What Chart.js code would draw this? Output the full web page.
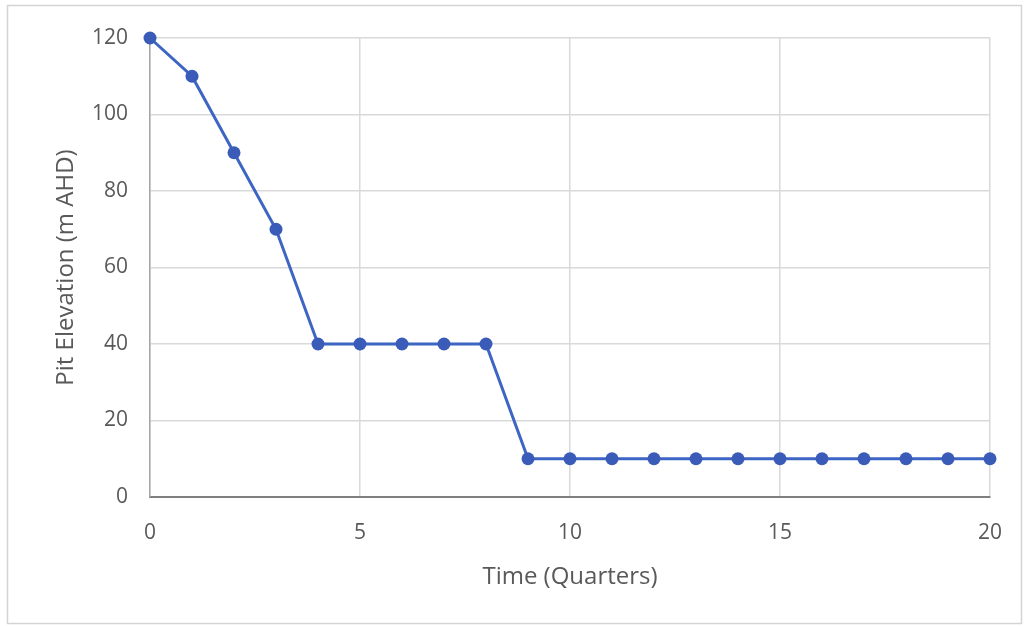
<!DOCTYPE html>
<html>
<head>
<meta charset="utf-8">
<script src="https://cdn.jsdelivr.net/npm/chart.js@4/dist/chart.umd.min.js"></script>
<style>
html,body{margin:0;padding:0;background:#fff;}
#wrap{position:absolute;left:0;top:0;width:1028px;height:626px;}
</style>
</head>
<body>
<div id="wrap"><canvas id="c" width="1028" height="626"></canvas></div>
<script>
const quarters = [0,1,2,3,4,5,6,7,8,9,10,11,12,13,14,15,16,17,18,19,20];
const elevation = [120,110,90,70,40,40,40,40,40,10,10,10,10,10,10,10,10,10,10,10,10];
const xTicks = [0,5,10,15,20];
const yTicks = [0,20,40,60,80,100,120];
const xTitle = 'Time (Quarters)';
const yTitle = 'Pit Elevation (m AHD)';

const txt = '#595959';
const fontFam = '"Open Sans", "Liberation Sans", sans-serif';

const framePlugin = {
  id: 'frame',
  beforeDraw(chart) {
    const ctx = chart.ctx;
    ctx.save();
    ctx.fillStyle = '#fff';
    ctx.fillRect(0, 0, chart.width, chart.height);
    ctx.strokeStyle = '#d4d4d4';
    ctx.lineWidth = 1.5;
    ctx.strokeRect(7.5, 5.5, 1014, 618);
    ctx.restore();
  }
};

new Chart(document.getElementById('c'), {
  type: 'line',
  data: {
    datasets: [{
      data: quarters.map((q, i) => ({x: q, y: elevation[i]})),
      borderColor: '#3d65c4',
      backgroundColor: '#3a5cb8',
      borderWidth: 3,
      pointRadius: 6.5,
      pointBorderWidth: 0,
      pointBackgroundColor: '#3a5cb8',
      tension: 0,
      clip: false
    }]
  },
  options: {
    responsive: false,
    animation: false,
    devicePixelRatio: 1,
    layout: {padding: {top: 38, right: 38, left: 52, bottom: 34}},
    plugins: {legend: {display: false}, tooltip: {enabled: false}},
    scales: {
      x: {
        type: 'linear',
        min: 0, max: 20,
        afterBuildTicks: s => { s.ticks = xTicks.map(v => ({value: v})); },
        afterFit: s => { s.height = 95; },
        grid: {color: '#d9d9d9', lineWidth: 1.5, drawTicks: false},
        border: {color: '#7f7f7f', width: 2},
        ticks: {color: txt, font: {family: fontFam, size: 21}, padding: 23, maxRotation: 0},
        title: {display: true, text: xTitle, color: txt, font: {family: fontFam, size: 24}, padding: {top: 4, bottom: 0}}
      },
      y: {
        type: 'linear',
        min: 0, max: 120,
        afterBuildTicks: s => { s.ticks = yTicks.map(v => ({value: v})); },
        afterFit: s => { s.width = 98; },
        grid: {color: '#d9d9d9', lineWidth: 1.5, drawTicks: false},
        border: {color: '#a6a6a6', width: 1.5},
        ticks: {color: txt, font: {family: fontFam, size: 21}, padding: 22},
        title: {display: true, text: yTitle, color: txt, font: {family: fontFam, size: 24}, padding: {top: 0, bottom: 4}}
      }
    }
  },
  plugins: [framePlugin]
});
</script>
</body>
</html>
